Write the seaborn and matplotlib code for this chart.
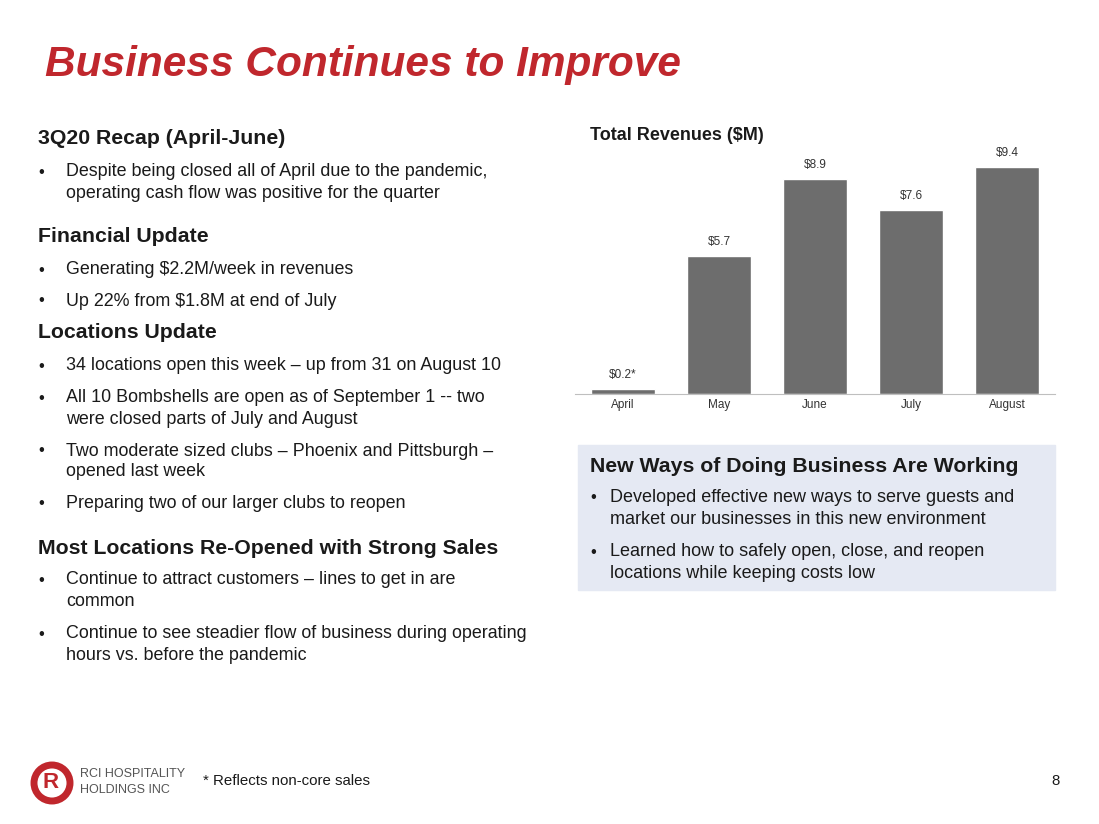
import matplotlib
matplotlib.use("Agg")
import matplotlib.pyplot as plt
import seaborn as sns
import pandas as pd
from matplotlib.patches import Rectangle, Ellipse

months = ["April", "May", "June", "July", "August"]
revenues = [0.2, 5.7, 8.9, 7.6, 9.4]
labels = ["$0.2*", "$5.7", "$8.9", "$7.6", "$9.4"]

sns.set_style("white")
plt.rcParams["font.family"] = ["Liberation Sans", "DejaVu Sans"]

W, H = 1099, 824
fig = plt.figure(figsize=(W / 100, H / 100), dpi=100)

def t(x, y, s, **kw):
    fig.text(x / W, 1 - y / H, s, va="center", **kw)

red = "#c0272d"
dark = "#1a1a1a"
t(45, 65, "Business Continues to Improve", color=red, fontsize=30.5, fontweight="bold", style="italic")

# left column
heads = [(38, 138, "3Q20 Recap (April-June)"), (38, 237, "Financial Update"),
         (38, 333, "Locations Update"), (38, 548, "Most Locations Re-Opened with Strong Sales")]
for x, y, s in heads:
    t(x, y, s, color=dark, fontsize=15.3, fontweight="bold")

bullets = [
    (172, ["Despite being closed all of April due to the pandemic,", "operating cash flow was positive for the quarter"]),
    (270, ["Generating $2.2M/week in revenues"]),
    (301, ["Up 22% from $1.8M at end of July"]),
    (366, ["34 locations open this week \u2013 up from 31 on August 10"]),
    (398, ["All 10 Bombshells are open as of September 1 -- two", "were closed parts of July and August"]),
    (451, ["Two moderate sized clubs \u2013 Phoenix and Pittsburgh \u2013", "opened last week"]),
    (504, ["Preparing two of our larger clubs to reopen"]),
    (580, ["Continue to attract customers \u2013 lines to get in are", "common"]),
    (634, ["Continue to see steadier flow of business during operating", "hours vs. before the pandemic"]),
]
for y, lines in bullets:
    t(38, y, "\u2022", color=dark, fontsize=12)
    for i, ln in enumerate(lines):
        t(66, y + i * 21, ln, color=dark, fontsize=12.9)

# chart
ax = fig.add_axes([575 / W, 1 - 394 / H, 480 / W, 241.5 / H])
df = pd.DataFrame({"month": months, "rev": revenues})
sns.barplot(data=df, x="month", y="rev", color="#6d6d6d", saturation=1, width=0.67, ax=ax)
ax.set_ylim(0, 10)
ax.set_xlim(-0.5, 4.5)
for i, (v, lb) in enumerate(zip(revenues, labels)):
    ax.text(i, v + 0.35, lb, ha="center", va="bottom", fontsize=8.5, color="#333333")
ax.set_xlabel("")
ax.set_ylabel("")
ax.set_yticks([])
ax.tick_params(axis="x", labelsize=8.5, colors="#333333", length=0)
for sp in ["top", "left", "right"]:
    ax.spines[sp].set_visible(False)
ax.spines["bottom"].set_color("#bfbfbf")
t(590, 136, "Total Revenues ($M)", color=dark, fontsize=13, fontweight="bold")

# blue box
fig.patches.append(Rectangle((578 / W, 1 - 590 / H), 477 / W, 145 / H,
                             transform=fig.transFigure, color="#e5e9f3", zorder=0))
t(590, 466, "New Ways of Doing Business Are Working", color=dark, fontsize=15.3, fontweight="bold")
box = [(498, ["Developed effective new ways to serve guests and", "market our businesses in this new environment"]),
       (552, ["Learned how to safely open, close, and reopen", "locations while keeping costs low"])]
for y, lines in box:
    t(590, y, "\u2022", color=dark, fontsize=12)
    for i, ln in enumerate(lines):
        t(610, y + i * 21, ln, color=dark, fontsize=13)

# footer
fig.patches.append(Ellipse((52 / W, 1 - 783 / H), 36 / W, 36 / H, transform=fig.transFigure,
                           fill=False, ec=red, lw=5))
t(51, 782, "R", color=red, fontsize=16, fontweight="bold", ha="center")
t(80, 774, "RCI HOSPITALITY", color="#555555", fontsize=9)
t(80, 790, "HOLDINGS INC", color="#555555", fontsize=9)
t(203, 781, "* Reflects non-core sales", color=dark, fontsize=10.8)
t(1060, 781, "8", color=dark, fontsize=10.8, ha="right")

fig.savefig("out.png", dpi=100)
